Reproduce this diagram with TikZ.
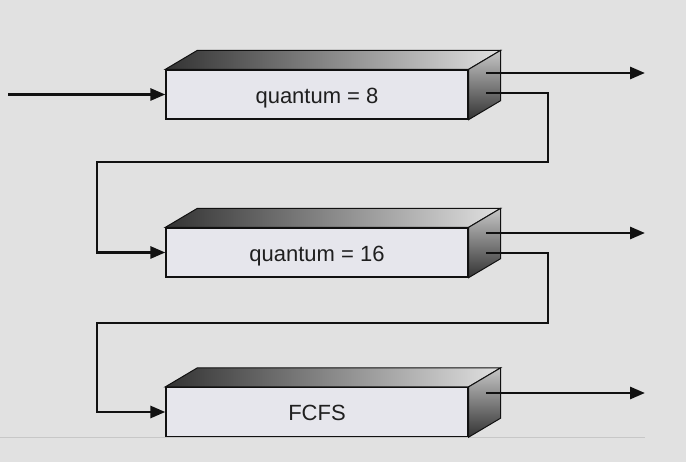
\documentclass[tikz,border=0pt]{standalone}
\usepackage{fontspec}
\setmainfont{Liberation Sans}
\usetikzlibrary{arrows.meta,calc}
\definecolor{bg}{HTML}{E1E1E1}
\definecolor{face}{HTML}{E6E6EC}
\definecolor{ink}{HTML}{111111}
\tikzset{
  queue/.style={draw=ink, line width=1.3pt, fill=face, minimum width=302pt, minimum height=49pt,
    inner sep=0pt, text depth=0pt, font=\fontsize{22}{25}\selectfont, text=black!88},
  conn/.style={draw=ink, line width=2.8pt},
  arr/.style={conn, -{Triangle[length=15pt,width=12pt]}},
  topface/.style={draw=ink, line width=1pt, left color=black!80, right color=black!12},
  sideface/.style={draw=ink, line width=1pt, top color=black!22, bottom color=black!80},
}
\newcommand{\boxfaces}[1]{%
  \path[topface] (#1.north west) -- ++(32,-19) -- ($(#1.north east)+(32,-19)$) -- (#1.north east) -- cycle;
  \path[sideface] (#1.north east) -- ++(32,-19) -- ($(#1.south east)+(32,-19)$) -- (#1.south east) -- cycle;
}
\begin{document}
\begin{tikzpicture}[x=1pt,y=-1pt]
\fill[bg] (0,0) rectangle (686,462);
\useasboundingbox (0,0) rectangle (686,462);
\draw[black!22, line width=0.8pt] (0,437) -- (645,437);

\node[queue] (b1) at (317,94.5) {\raisebox{-2pt}{quantum = 8}};
\node[queue] (b2) at (317,252.5) {\raisebox{-2pt}{quantum = 16}};
\node[queue] (b3) at (317,412) {\raisebox{-2pt}{FCFS}};
\boxfaces{b1}
\boxfaces{b2}
\boxfaces{b3}

% named coordinates
\coordinate (in) at (8,94.5);
\coordinate (o1a) at (486,73);
\coordinate (e1) at (645,73);
\coordinate (o1b) at (486,93);
\coordinate (o2a) at (486,233);
\coordinate (e2) at (645,233);
\coordinate (o2b) at (486,253);
\coordinate (o3a) at (486,393);
\coordinate (e3) at (645,393);

\draw[arr] (in) -- (b1.west);
\draw[arr] (o1a) -- (e1);
\draw[arr] (o1b) -- (548,93) -- (548,162) -- (97,162) -- (97,252.5) -- (b2.west);
\draw[arr] (o2a) -- (e2);
\draw[arr] (o2b) -- (548,253) -- (548,323) -- (97,323) -- (97,412) -- (b3.west);
\draw[arr] (o3a) -- (e3);
\end{tikzpicture}
\end{document}
